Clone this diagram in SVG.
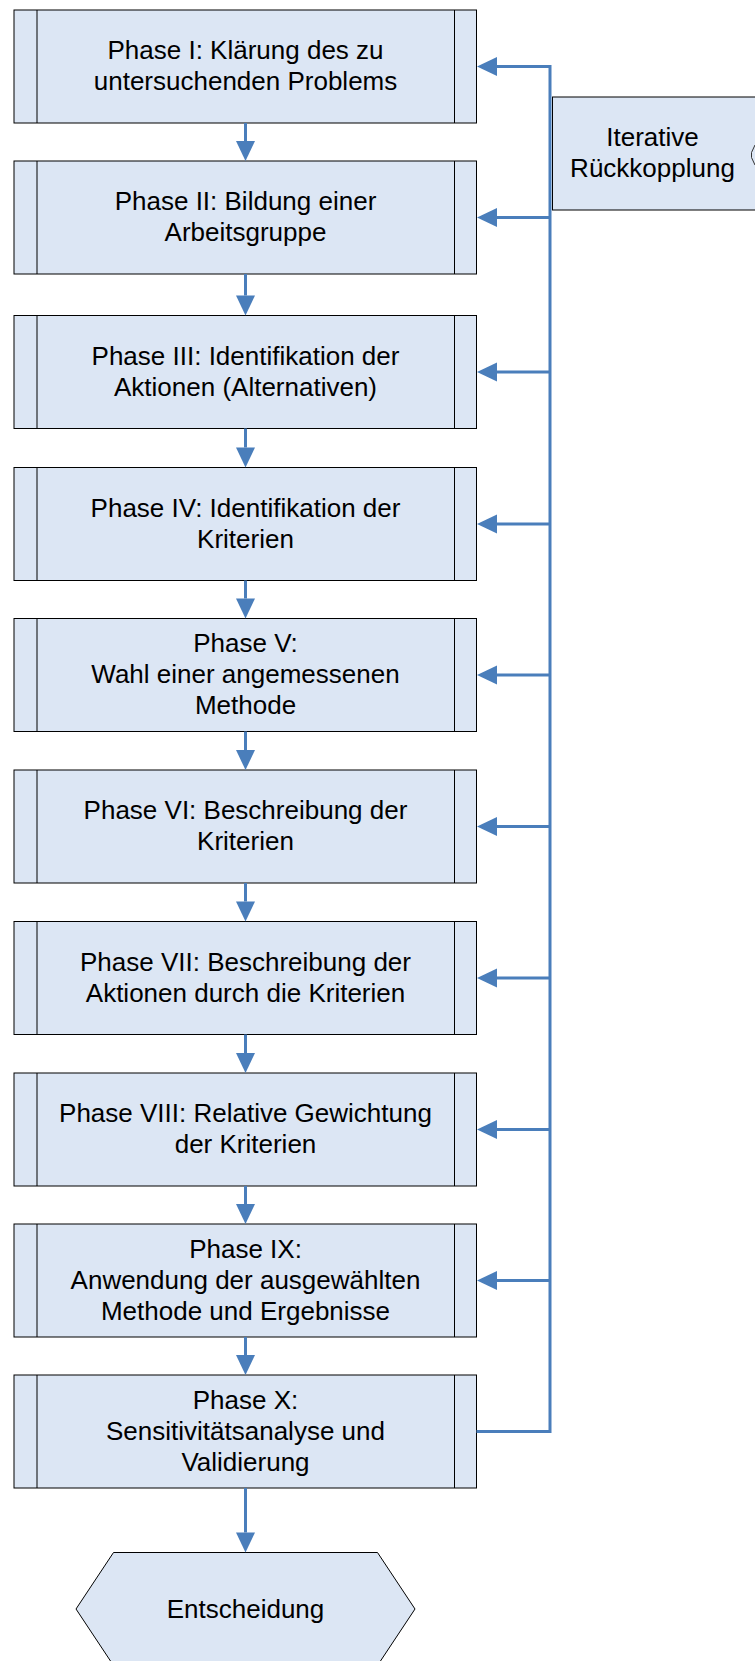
<svg xmlns="http://www.w3.org/2000/svg" width="755" height="1661" viewBox="0 0 755 1661">
  <style>
    .box { fill: #dce6f4; stroke: #000; stroke-width: 1; }
    .bar { fill: none; stroke: #000; stroke-width: 1; }
    .lbl { font-family: "Liberation Sans", Arial, sans-serif; font-size: 26px; fill: #000; text-anchor: middle; }
    .flow { fill: none; stroke: #4a7ebb; stroke-width: 3; }
  </style>
  <defs>
    <!-- filled arrowhead; the line ends at the head's base -->
    <marker id="arrow" markerUnits="userSpaceOnUse" markerWidth="20" markerHeight="19" refX="0" refY="9.5" orient="auto" overflow="visible">
      <path d="M0,0 L20,9.5 L0,19 Z" fill="#4a7ebb"/>
    </marker>
  </defs>

  <rect width="755" height="1661" fill="#fff"/>

  <!-- process steps (predefined-process shape) -->
  <g id="phase1">
    <rect class="box" x="14" y="10" width="462.5" height="113"/>
    <path class="bar" d="M37,10 V123 M454.5,10 V123"/>
    <text class="lbl" x="245.5" y="59">Phase I: Klärung des zu</text>
    <text class="lbl" x="245.5" y="90">untersuchenden Problems</text>
  </g>
  <g id="phase2">
    <rect class="box" x="14" y="161" width="462.5" height="113"/>
    <path class="bar" d="M37,161 V274 M454.5,161 V274"/>
    <text class="lbl" x="245.5" y="210">Phase II: Bildung einer</text>
    <text class="lbl" x="245.5" y="241">Arbeitsgruppe</text>
  </g>
  <g id="phase3">
    <rect class="box" x="14" y="315.5" width="462.5" height="113"/>
    <path class="bar" d="M37,315.5 V428.5 M454.5,315.5 V428.5"/>
    <text class="lbl" x="245.5" y="364.5">Phase III: Identifikation der</text>
    <text class="lbl" x="245.5" y="395.5">Aktionen (Alternativen)</text>
  </g>
  <g id="phase4">
    <rect class="box" x="14" y="467.5" width="462.5" height="113"/>
    <path class="bar" d="M37,467.5 V580.5 M454.5,467.5 V580.5"/>
    <text class="lbl" x="245.5" y="516.5">Phase IV: Identifikation der</text>
    <text class="lbl" x="245.5" y="547.5">Kriterien</text>
  </g>
  <g id="phase5">
    <rect class="box" x="14" y="618.5" width="462.5" height="113"/>
    <path class="bar" d="M37,618.5 V731.5 M454.5,618.5 V731.5"/>
    <text class="lbl" x="245.5" y="652">Phase V:</text>
    <text class="lbl" x="245.5" y="683">Wahl einer angemessenen</text>
    <text class="lbl" x="245.5" y="714">Methode</text>
  </g>
  <g id="phase6">
    <rect class="box" x="14" y="770" width="462.5" height="113"/>
    <path class="bar" d="M37,770 V883 M454.5,770 V883"/>
    <text class="lbl" x="245.5" y="819">Phase VI: Beschreibung der</text>
    <text class="lbl" x="245.5" y="850">Kriterien</text>
  </g>
  <g id="phase7">
    <rect class="box" x="14" y="921.5" width="462.5" height="113"/>
    <path class="bar" d="M37,921.5 V1034.5 M454.5,921.5 V1034.5"/>
    <text class="lbl" x="245.5" y="970.5">Phase VII: Beschreibung der</text>
    <text class="lbl" x="245.5" y="1001.5">Aktionen durch die Kriterien</text>
  </g>
  <g id="phase8">
    <rect class="box" x="14" y="1073" width="462.5" height="113"/>
    <path class="bar" d="M37,1073 V1186 M454.5,1073 V1186"/>
    <text class="lbl" x="245.5" y="1122">Phase VIII: Relative Gewichtung</text>
    <text class="lbl" x="245.5" y="1153">der Kriterien</text>
  </g>
  <g id="phase9">
    <rect class="box" x="14" y="1224" width="462.5" height="113"/>
    <path class="bar" d="M37,1224 V1337 M454.5,1224 V1337"/>
    <text class="lbl" x="245.5" y="1257.5">Phase IX:</text>
    <text class="lbl" x="245.5" y="1288.5">Anwendung der ausgewählten</text>
    <text class="lbl" x="245.5" y="1319.5">Methode und Ergebnisse</text>
  </g>
  <g id="phase10">
    <rect class="box" x="14" y="1375" width="462.5" height="113"/>
    <path class="bar" d="M37,1375 V1488 M454.5,1375 V1488"/>
    <text class="lbl" x="245.5" y="1408.5">Phase X:</text>
    <text class="lbl" x="245.5" y="1439.5">Sensitivitätsanalyse und</text>
    <text class="lbl" x="245.5" y="1470.5">Validierung</text>
  </g>

  <!-- final decision (preparation shape) -->
  <g id="decision">
    <polygon class="box" points="113.5,1552.5 377.5,1552.5 415,1609 377.5,1665.5 113.5,1665.5 76,1609"/>
    <text class="lbl" x="245.5" y="1618">Entscheidung</text>
  </g>

  <!-- feedback label -->
  <g id="feedback">
    <rect class="box" x="552.5" y="97" width="220" height="113"/>
    <path d="M755,145 L751.5,152.5 L751.5,157.5 L755,165" fill="none" stroke="#333" stroke-width="1"/>
    <text class="lbl" x="652.5" y="146">Iterative</text>
    <text class="lbl" x="652.5" y="177">Rückkopplung</text>
  </g>

  <g id="connectors">
    <!-- main sequence -->
    <path class="flow" marker-end="url(#arrow)" d="M245.5,123 V141"/>
    <path class="flow" marker-end="url(#arrow)" d="M245.5,274 V295.5"/>
    <path class="flow" marker-end="url(#arrow)" d="M245.5,428.5 V447.5"/>
    <path class="flow" marker-end="url(#arrow)" d="M245.5,580.5 V598.5"/>
    <path class="flow" marker-end="url(#arrow)" d="M245.5,731.5 V750"/>
    <path class="flow" marker-end="url(#arrow)" d="M245.5,883 V901.5"/>
    <path class="flow" marker-end="url(#arrow)" d="M245.5,1034.5 V1053"/>
    <path class="flow" marker-end="url(#arrow)" d="M245.5,1186 V1204"/>
    <path class="flow" marker-end="url(#arrow)" d="M245.5,1337 V1355"/>
    <path class="flow" marker-end="url(#arrow)" d="M245.5,1488 V1532.5"/>

    <!-- feedback bus -->
    <path class="flow" d="M476.5,1431.5 H550 V66.5 H497"/>
    <path class="flow" marker-end="url(#arrow)" d="M550,66.5 H497"/>
    <path class="flow" marker-end="url(#arrow)" d="M550,217.5 H497"/>
    <path class="flow" marker-end="url(#arrow)" d="M550,372 H497"/>
    <path class="flow" marker-end="url(#arrow)" d="M550,524 H497"/>
    <path class="flow" marker-end="url(#arrow)" d="M550,675 H497"/>
    <path class="flow" marker-end="url(#arrow)" d="M550,826.5 H497"/>
    <path class="flow" marker-end="url(#arrow)" d="M550,978 H497"/>
    <path class="flow" marker-end="url(#arrow)" d="M550,1129.5 H497"/>
    <path class="flow" marker-end="url(#arrow)" d="M550,1280.5 H497"/>
  </g>
</svg>
